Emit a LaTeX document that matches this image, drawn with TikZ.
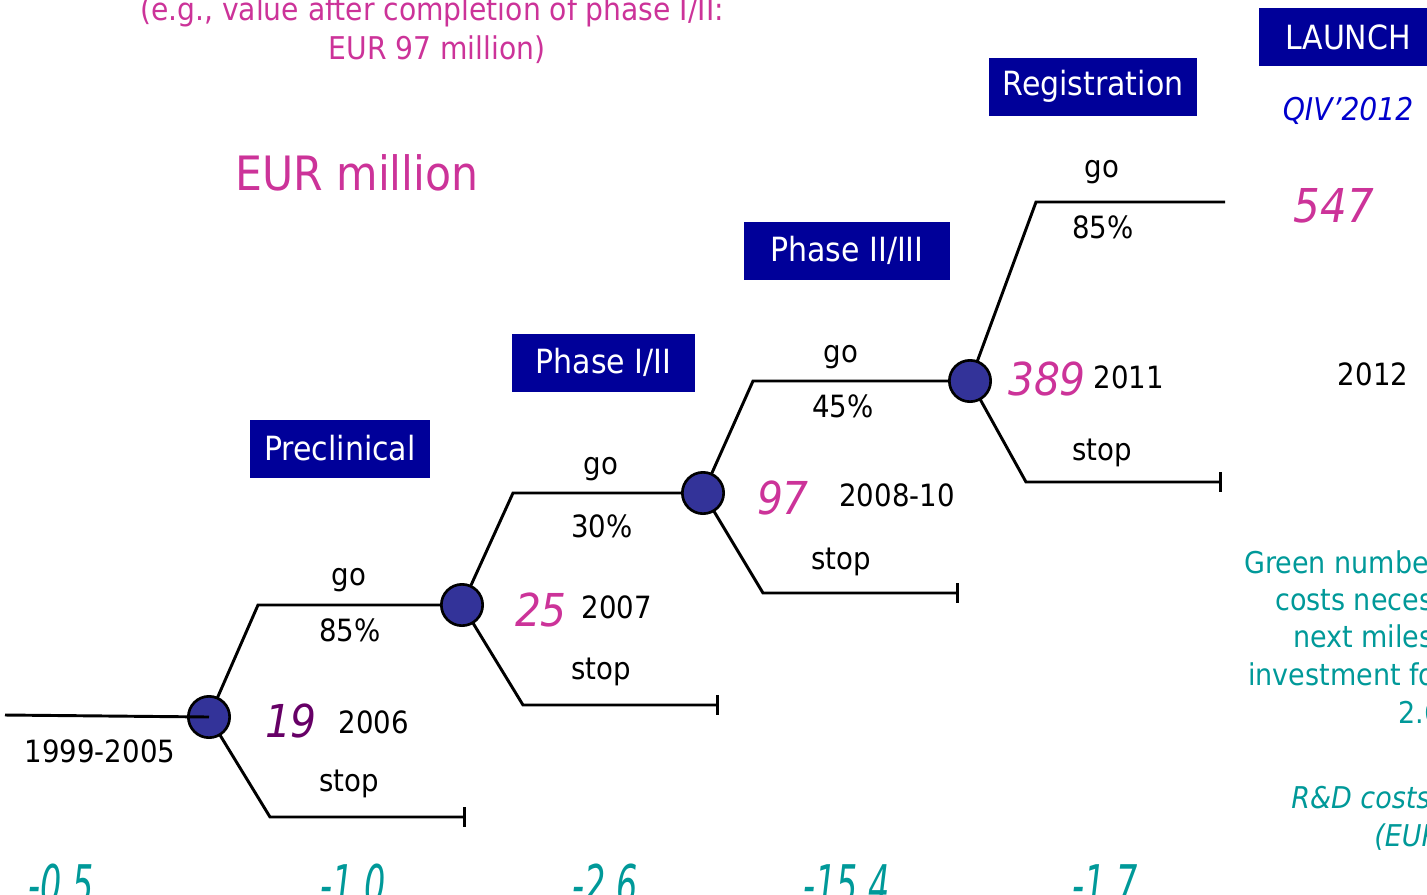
\documentclass[tikz,border=0pt]{standalone}
\usepackage{fontspec}
\setmainfont{DejaVu Sans Condensed}[ItalicFont={DejaVu Sans Condensed Oblique}]
\usepackage{tkz-graph}
\usetikzlibrary{arrows.meta}
\definecolor{navybox}{HTML}{000099}
\definecolor{nodeblue}{HTML}{333399}
\definecolor{valpink}{HTML}{CC3399}
\definecolor{valpurple}{HTML}{660066}
\definecolor{costteal}{HTML}{009999}
\definecolor{qblue}{HTML}{0000CC}
\tikzset{
  phasebox/.style={fill=navybox,text=white,font=\fontsize{25}{29}\selectfont,minimum height=43.5pt,inner sep=0pt},
  lbl/.style={anchor=base,font=\fontsize{23}{27}\selectfont},
  pinktxt/.style={anchor=base,text=valpink,font=\fontsize{23.5}{27}\selectfont},
  val/.style={anchor=base,text=valpink,font=\fontsize{34}{38}\selectfont\itshape},
  note/.style={anchor=base west,inner sep=0pt,text=costteal,font=\fontsize{22.5}{26}\selectfont},
  cost/.style={anchor=base west,inner sep=0pt,text=costteal,font=\fontsize{41}{46}\selectfont\itshape,xscale=0.68,transform shape},
  branch/.style={line width=2.2pt},
  stopline/.style={branch,-{Bar[width=15pt]}}
}
\begin{document}
\begin{tikzpicture}[x=0.75pt,y=-0.75pt]
            \useasboundingbox (0,0) rectangle (1427,894);
            \node[pinktxt] (t1) at (432,20) {(e.g., value after completion of phase I/II:};
            \node[pinktxt] (t2) at (437,59) {EUR 97 million)};
            \node[pinktxt,font=\fontsize{35.5}{40}\selectfont] (unit) at (357,190) {EUR million};

            \node[phasebox,minimum width=135pt] (b1) at (340,448.5) {Preclinical};
            \node[phasebox,minimum width=137pt] (b2) at (603.5,362.5) {Phase I/II};
            \node[phasebox,minimum width=154.5pt] (b3) at (847,250.5) {Phase II/III};
            \node[phasebox,minimum width=156pt] (b4) at (1093,86.5) {Registration};
            \node[phasebox,minimum width=133.5pt,minimum height=44pt] (b5) at (1348,37) {LAUNCH};
            \node[anchor=base,text=qblue,font=\fontsize{23.5}{27}\selectfont\itshape] (qiv) at (1348,120) {QIV'2012};

            \GraphInit[vstyle=Classic];
            \SetVertexNormal[MinSize=31pt,FillColor=nodeblue,LineWidth=2pt]
            \tikzset{VertexStyle/.append style={draw=black,line width=2pt}};
            \Vertex[x=209,y=717,NoLabel]{c1};
            \Vertex[x=462,y=605,NoLabel]{c2};
            \Vertex[x=703,y=493,NoLabel]{c3};
            \Vertex[x=970,y=381,NoLabel]{c4};

            \coordinate (s0) at (5,715);
            \coordinate (u1) at (258,605);
            \coordinate (d1) at (270,817);
            \coordinate (e1) at (466,817);
            \coordinate (u2) at (513,493);
            \coordinate (d2) at (523,705);
            \coordinate (e2) at (719,705);
            \coordinate (u3) at (753,381);
            \coordinate (d3) at (763,593);
            \coordinate (e3) at (959,593);
            \coordinate (u4) at (1036,202);
            \coordinate (f4) at (1225,202);
            \coordinate (d4) at (1026,482);
            \coordinate (e4) at (1222,482);

            \draw[branch] (s0) -- (c1.center);
            \draw[branch] (c1) -- (u1) -- (c2);
            \draw[stopline] (c1) -- (d1) -- (e1);
            \draw[branch] (c2) -- (u2) -- (c3);
            \draw[stopline] (c2) -- (d2) -- (e2);
            \draw[branch] (c3) -- (u3) -- (c4);
            \draw[stopline] (c3) -- (d3) -- (e3);
            \draw[branch] (c4) -- (u4) -- (f4);
            \draw[stopline] (c4) -- (d4) -- (e4);

            \node[lbl] (y0) at (100,762) {1999-2005};
            \node[lbl] (go1) at (349,585) {go};
            \node[lbl] (p1) at (350,641) {85\%};
            \node[lbl] (st1) at (349,791) {stop};
            \node[val,text=valpurple] (v1) at (291,737) {19};
            \node[lbl] (y1) at (374,733) {2006};

            \node[lbl] (go2) at (601,474) {go};
            \node[lbl] (p2) at (602,537) {30\%};
            \node[lbl] (st2) at (601,679) {stop};
            \node[val] (v2) at (541,626) {25};
            \node[lbl] (y2) at (617,618) {2007};

            \node[lbl] (go3) at (841,362) {go};
            \node[lbl] (p3) at (843,417) {45\%};
            \node[lbl] (st3) at (841,569) {stop};
            \node[val] (v3) at (783,514) {97};
            \node[lbl] (y3) at (897,506) {2008-10};

            \node[lbl] (go4) at (1102,177) {go};
            \node[lbl] (p4) at (1103,238) {85\%};
            \node[lbl] (st4) at (1102,460) {stop};
            \node[val] (v4) at (1047,395) {389};
            \node[lbl] (y4) at (1129,388) {2011};

            \node[val,font=\fontsize{35}{40}\selectfont\itshape] (v5) at (1334,222) {547};
            \node[lbl] (y5) at (1373,385) {2012};

            \node[note] (g1) at (1244,573) {Green numbers};
            \node[note] (g2) at (1275,610) {costs necessary};
            \node[note] (g3) at (1293,647) {next milestone};
            \node[note] (g4) at (1248,685) {investment for};
            \node[note] (g5) at (1398,723) {2.6};
            \node[note,font=\fontsize{22.5}{26}\selectfont\itshape] (r1) at (1291,808) {R\&D costs};
            \node[note,font=\fontsize{22.5}{26}\selectfont\itshape] (r2) at (1374,846) {(EUR million)};

            \node[cost] (k1) at (28,904) {-0.5};
            \node[cost] (k2) at (320,904) {-1.0};
            \node[cost] (k3) at (572,904) {-2.6};
            \node[cost] (k4) at (803,904) {-15.4};
            \node[cost] (k5) at (1072,904) {-1.7};
\end{tikzpicture}
\end{document}
